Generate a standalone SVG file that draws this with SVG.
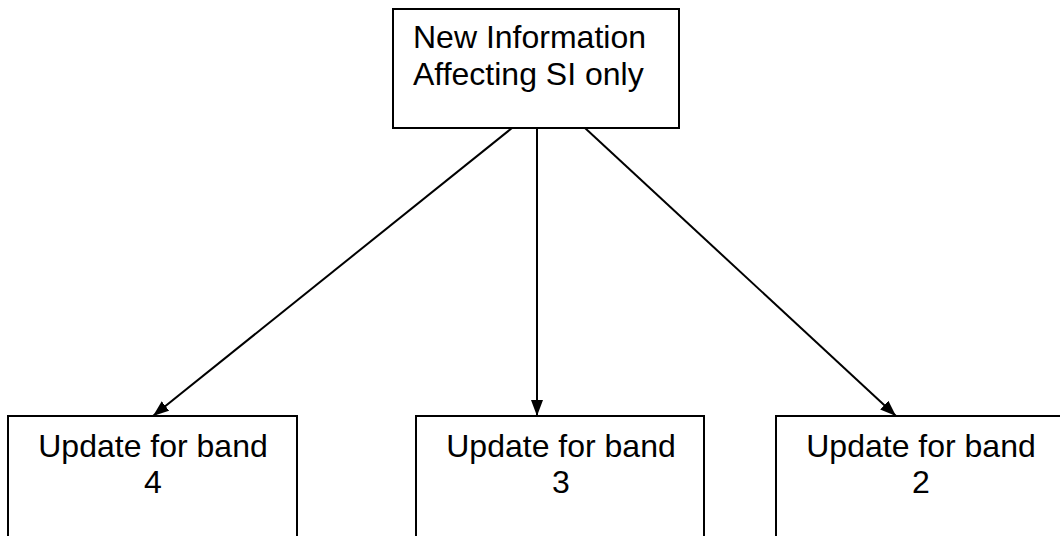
<svg xmlns="http://www.w3.org/2000/svg" width="1060" height="536" viewBox="0 0 1060 536">
<style>
.box{fill:#fff;stroke:#000;stroke-width:2}
.t{font-family:"Liberation Sans",Arial,sans-serif;font-size:32px;fill:#000}
.c{text-anchor:middle}
.edge{stroke:#000;stroke-width:2;fill:none}
</style>
<defs>
<marker id="arr" viewBox="0 0 16 12" refX="16" refY="6" markerWidth="16" markerHeight="12" orient="auto" markerUnits="userSpaceOnUse">
<path d="M0,0 L16,6 L0,12 z" fill="#000"/>
</marker>
</defs>
<rect width="1060" height="536" fill="#fff"/>
<g id="edges">
<line class="edge" x1="512" y1="128" x2="153" y2="416" marker-end="url(#arr)"/>
<line class="edge" x1="537" y1="128" x2="537" y2="416" marker-end="url(#arr)"/>
<line class="edge" x1="585" y1="128" x2="896" y2="416" marker-end="url(#arr)"/>
</g>
<g id="top">
<rect class="box" x="393" y="9" width="286" height="119"/>
<text class="t" x="413" y="48">New Information</text>
<text class="t" x="413" y="85">Affecting SI only</text>
</g>
<g id="band4">
<rect class="box" x="8" y="416" width="289" height="130"/>
<text class="t c" x="153" y="457">Update for band</text>
<text class="t c" x="153" y="493">4</text>
</g>
<g id="band3">
<rect class="box" x="416" y="416" width="288" height="130"/>
<text class="t c" x="561" y="457">Update for band</text>
<text class="t c" x="561" y="493">3</text>
</g>
<g id="band2">
<rect class="box" x="776" y="416" width="290" height="130"/>
<text class="t c" x="921" y="457">Update for band</text>
<text class="t c" x="921" y="493">2</text>
</g>
</svg>
